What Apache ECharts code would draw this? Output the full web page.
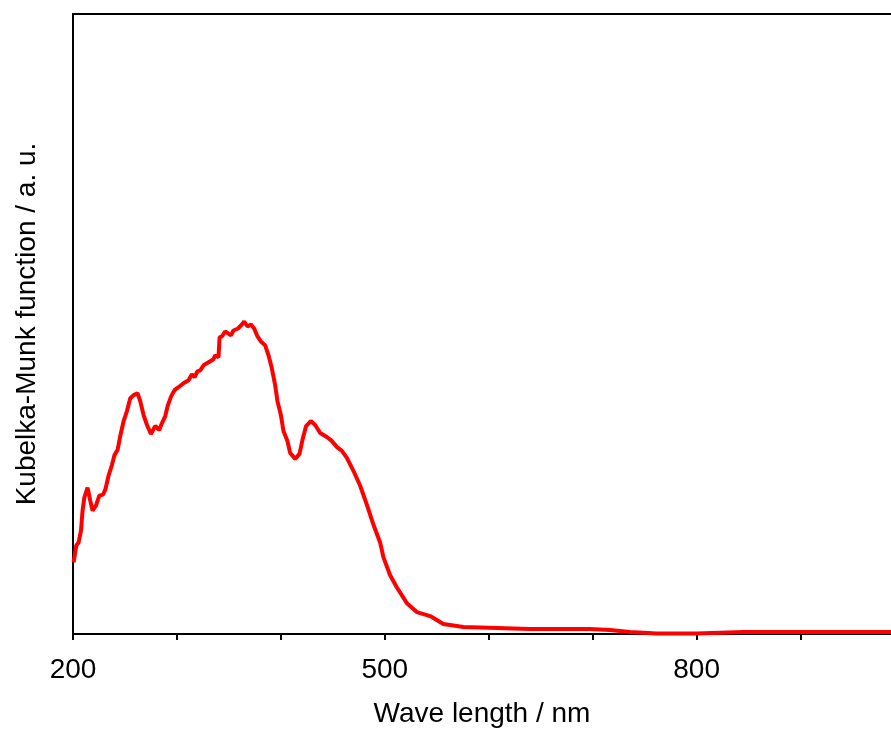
<!DOCTYPE html>
<html>
<head>
<meta charset="utf-8">
<script src="https://cdn.jsdelivr.net/npm/echarts@6/dist/echarts.min.js"></script>
<style>
  html, body { margin: 0; padding: 0; background: #fff; }
  #chart { width: 891px; height: 733px; }
</style>
</head>
<body>
<div id="chart"></div>
<script>
// Diffuse reflectance spectrum (Kubelka-Munk), wavelength in nm vs. arbitrary units
const wavelength = [
  200.6, 203.2, 205.4, 207.7, 209.2, 210.9, 214.0, 216.6, 218.8, 222.1,
  225.3, 228.8, 231.1, 234.2, 237.5, 240.0, 242.9, 245.5, 248.7, 251.9,
  255.1, 258.3, 262.1, 264.7, 267.9, 271.2, 275.0, 279.1, 283.0, 285.6,
  288.8, 291.0, 294.5, 297.7, 301.5, 306.3, 311.2, 314.4, 316.9, 319.8,
  322.4, 325.6, 330.4, 335.2, 336.8, 340.0, 341.0, 343.3, 346.4, 351.9,
  354.4, 358.7, 362.5, 364.7, 367.9, 371.2, 374.3, 377.5, 380.8, 384.9,
  388.1, 391.3, 394.5, 396.7, 400.0, 402.5, 406.3, 408.9, 413.8, 417.9,
  421.2, 424.3, 428.8, 433.0, 437.8, 444.2, 449.0, 453.8, 458.7, 463.5,
  469.8, 476.3, 482.7, 489.0, 495.5, 498.7, 505.1, 511.5, 521.2, 530.8,
  543.6, 556.3, 575.6, 607.7, 639.7, 681.3, 697.4, 716.6, 735.9, 761.5,
  800.0, 844.8, 896.2, 950.0, 1000.0
];
const kmValue = [
  7.2, 8.9, 9.2, 10.4, 12.4, 13.7, 14.7, 13.4, 12.4, 12.9,
  13.9, 14.0, 14.5, 15.9, 17.0, 18.0, 18.5, 19.9, 21.4, 22.4,
  23.7, 24.0, 24.2, 23.4, 22.0, 21.0, 20.1, 20.9, 20.5, 21.2,
  21.9, 22.9, 23.9, 24.5, 24.8, 25.2, 25.5, 26.1, 25.8, 26.4,
  26.5, 27.0, 27.3, 27.6, 28.0, 27.8, 29.8, 29.9, 30.4, 30.0,
  30.5, 30.7, 31.1, 31.4, 30.9, 31.1, 30.7, 29.9, 29.4, 29.0,
  28.0, 26.7, 25.0, 23.4, 22.0, 20.4, 19.4, 18.2, 17.6, 18.1,
  19.7, 20.9, 21.4, 21.0, 20.2, 19.8, 19.4, 18.8, 18.4, 17.7,
  16.4, 14.9, 13.0, 11.0, 9.2, 7.7, 5.9, 4.7, 3.1, 2.2,
  1.8, 1.0, 0.7, 0.6, 0.5, 0.5, 0.5, 0.4, 0.2, 0.05,
  0.05, 0.2, 0.2, 0.2, 0.2
];
const xTickValues = [200, 300, 400, 500, 600, 700, 800, 900];
const xLabelValues = [200, 500, 800];

const chart = echarts.init(document.getElementById('chart'), null, { renderer: 'canvas' });
const font = 'Liberation Sans, Arial, sans-serif';
// visible wavelength window: the frame runs past the right edge of the canvas
const xMin = 200, xMax = 987;

chart.setOption({
  animation: false,
  backgroundColor: '#ffffff',
  grid: { left: 73, right: 0, top: 14, bottom: 94, show: false },
  xAxis: [{
    type: 'value',
    min: xMin, max: xMax,
    name: 'Wave length / nm',
    nameLocation: 'middle',
    nameGap: 66,
    nameTextStyle: { fontFamily: font, fontSize: 28, color: '#000' },
    axisLine: { show: true, lineStyle: { color: '#000', width: 2 } },
    axisTick: { show: true, inside: false, length: 6, customValues: xTickValues,
      lineStyle: { color: '#000', width: 2 } },
    axisLabel: { show: true, margin: 22, fontFamily: font, fontSize: 28, color: '#000',
      customValues: xLabelValues },
    splitLine: { show: false }
  }, {
    type: 'value',
    position: 'top',
    min: xMin, max: xMax,
    axisLine: { show: true, lineStyle: { color: '#000', width: 2 } },
    axisTick: { show: false },
    axisLabel: { show: false },
    splitLine: { show: false }
  }],
  yAxis: {
    type: 'value',
    min: 0, max: 62.3,
    name: 'Kubelka-Munk function / a. u.',
    nameLocation: 'middle',
    nameGap: 32,
    nameTextStyle: { fontFamily: font, fontSize: 28, color: '#000' },
    axisLine: { show: true, lineStyle: { color: '#000', width: 2 } },
    axisTick: { show: false },
    axisLabel: { show: false },
    splitLine: { show: false }
  },
  series: [{
    type: 'line',
    xAxisIndex: 0,
    data: wavelength.map((w, i) => [w, kmValue[i]]),
    showSymbol: false,
    smooth: false,
    lineStyle: { color: '#ff0000', width: 4 },
    clip: true
  }]
});
</script>
</body>
</html>
